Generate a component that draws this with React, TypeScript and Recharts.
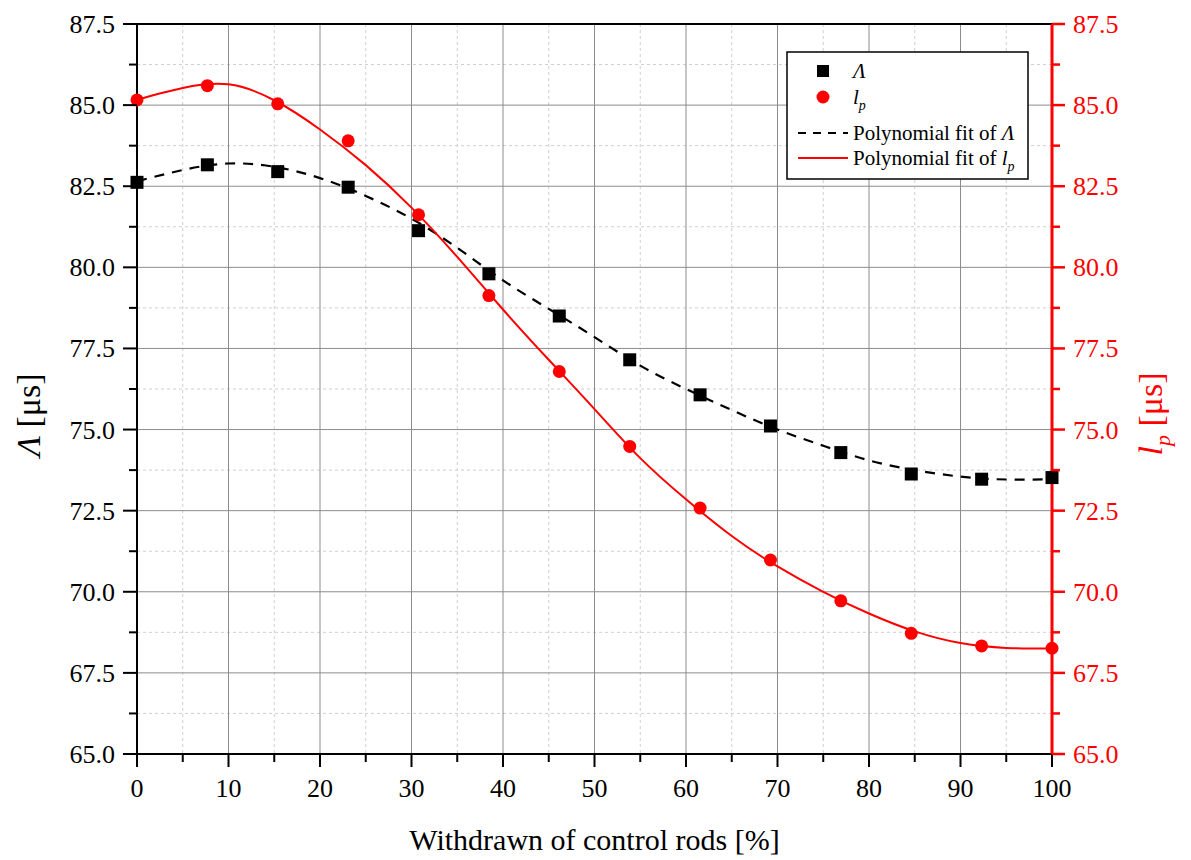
import {
  ComposedChart,
  Line,
  Scatter,
  XAxis,
  YAxis,
  CartesianGrid,
  ReferenceLine,
  Legend,
  Label,
} from "recharts";

// withdrawn fraction of control rods [%] for the measured points
const rodSteps = [0, 7.69, 15.38, 23.08, 30.77, 38.46, 46.15, 53.85, 61.54, 69.23, 76.92, 84.62, 92.31, 100];
// Λ [μs]
const lambdaValues = [82.62, 83.16, 82.95, 82.47, 81.13, 79.8, 78.5, 77.15, 76.07, 75.11, 74.29, 73.63, 73.47, 73.52];
// l_p [μs]
const lpValues = [85.16, 85.6, 85.04, 83.9, 81.62, 79.13, 76.79, 74.48, 72.58, 70.98, 69.72, 68.72, 68.33, 68.26];

// fit curves
const fitSteps = [0, 5, 10, 15, 20, 25, 30, 35, 40, 45, 50, 55, 60, 65, 70, 75, 80, 85, 90, 95, 100];
const lambdaFit = [82.65, 83.0, 83.2, 83.1, 82.75, 82.2, 81.5, 80.6, 79.6, 78.72, 77.85, 76.97, 76.25, 75.6, 75.0, 74.5, 74.05, 73.75, 73.55, 73.46, 73.47];
const lpFit = [85.17, 85.53, 85.64, 85.15, 84.25, 83.15, 81.84, 80.32, 78.7, 77.15, 75.63, 74.12, 72.85, 71.72, 70.78, 70.0, 69.33, 68.78, 68.42, 68.27, 68.25];

const xMajor = [0, 10, 20, 30, 40, 50, 60, 70, 80, 90, 100];
const xMinor = [5, 15, 25, 35, 45, 55, 65, 75, 85, 95];
const yMajor = [65, 67.5, 70, 72.5, 75, 77.5, 80, 82.5, 85, 87.5];
const yMinor = [66.25, 68.75, 71.25, 73.75, 76.25, 78.75, 81.25, 83.75, 86.25];

const lambdaPoints = rodSteps.map((x, i) => ({ x, lam: lambdaValues[i] }));
const lpPoints = rodSteps.map((x, i) => ({ x, lp: lpValues[i] }));
const lambdaFitData = fitSteps.map((x, i) => ({ x, lamFit: lambdaFit[i] }));
const lpFitData = fitSteps.map((x, i) => ({ x, lpFit: lpFit[i] }));

const FONT = "'Liberation Serif', 'Times New Roman', serif";
const RED = "#ff0000";
const serif = { fontFamily: FONT };

const isMajor = (v: number, list: number[]) => list.some((m) => Math.abs(m - v) < 1e-6);

function XTick(props: any) {
  const { x, y, payload } = props;
  const major = isMajor(payload.value, xMajor);
  return (
    <g>
      <line x1={x} y1={y} x2={x} y2={y + (major ? 13 : 8)} stroke="#000" strokeWidth={2} />
      {major && (
        <text x={x} y={y + 43} textAnchor="middle" style={serif} fontSize={26} fill="#000">
          {payload.value}
        </text>
      )}
    </g>
  );
}

function LeftTick(props: any) {
  const { x, y, payload } = props;
  const major = isMajor(payload.value, yMajor);
  return (
    <g>
      <line x1={x} y1={y} x2={x - (major ? 14 : 8)} y2={y} stroke="#000" strokeWidth={2} />
      {major && (
        <text x={x - 22} y={y + 9} textAnchor="end" style={serif} fontSize={26} fill="#000">
          {payload.value.toFixed(1)}
        </text>
      )}
    </g>
  );
}

function RightTick(props: any) {
  const { x, y, payload } = props;
  const major = isMajor(payload.value, yMajor);
  return (
    <g>
      <line x1={x} y1={y} x2={x + (major ? 13 : 8)} y2={y} stroke={RED} strokeWidth={2.5} />
      {major && (
        <text x={x + 21} y={y + 9} textAnchor="start" style={serif} fontSize={26} fill={RED}>
          {payload.value.toFixed(1)}
        </text>
      )}
    </g>
  );
}

function LegendBox() {
  return (
    <svg width={243} height={129} style={{ display: "block" }}>
      <rect x={1} y={1} width={241} height={127} fill="#fff" stroke="#000" strokeWidth={1.5} />
      <rect x={31} y={14} width={12} height={12} fill="#000" />
      <text x={67} y={27} style={serif} fontSize={21} fontStyle="italic">Λ</text>
      <circle cx={37} cy={46} r={6.5} fill={RED} />
      <text x={67} y={53} style={serif} fontSize={21}>
        <tspan fontStyle="italic">l</tspan>
        <tspan fontStyle="italic" fontSize={14} dy={6}>p</tspan>
      </text>
      <line x1={12} y1={82} x2={62} y2={82} stroke="#000" strokeWidth={2} strokeDasharray="8 7" />
      <text x={67} y={89} style={serif} fontSize={21}>
        Polynomial fit of <tspan fontStyle="italic">Λ</tspan>
      </text>
      <line x1={12} y1={107} x2={62} y2={107} stroke={RED} strokeWidth={2} />
      <text x={67} y={114} style={serif} fontSize={21}>
        Polynomial fit of <tspan fontStyle="italic">l</tspan>
        <tspan fontStyle="italic" fontSize={14} dy={6}>p</tspan>
      </text>
    </svg>
  );
}

const square = (p: any) => <rect x={p.cx - 6.5} y={p.cy - 6.5} width={13} height={13} fill="#000" />;
const dot = (p: any) => <circle cx={p.cx} cy={p.cy} r={6.5} fill={RED} />;

export default function App() {
  return (
    <div style={{ position: "absolute", left: 0, top: 0, background: "#fff" }}>
      <ComposedChart width={1191} height={860} margin={{ top: 24, right: 0, bottom: 0, left: 0 }}>
        <CartesianGrid
          yAxisId="left"
          horizontalValues={yMinor}
          verticalValues={xMinor}
          stroke="#cfcfcf"
          strokeDasharray="3 3"
        />
        <CartesianGrid yAxisId="left" horizontalValues={yMajor} verticalValues={xMajor} stroke="#8c8c8c" />

        <XAxis
          dataKey="x"
          type="number"
          domain={[0, 100]}
          ticks={[...xMajor, ...xMinor].sort((a, b) => a - b)}
          interval={0}
          height={106}
          tickSize={0}
          tickMargin={0}
          tickLine={false}
          tick={<XTick />}
          axisLine={{ stroke: "#000", strokeWidth: 2 }}
        >
          <Label
            content={(p: any) => (
              <text
                x={p.viewBox.x + p.viewBox.width / 2}
                y={p.viewBox.y + 96}
                textAnchor="middle"
                style={serif}
                fontSize={30}
                fill="#000"
              >
                Withdrawn of control rods [%]
              </text>
            )}
          />
        </XAxis>

        <YAxis
          yAxisId="left"
          orientation="left"
          type="number"
          domain={[65, 87.5]}
          ticks={[...yMajor, ...yMinor].sort((a, b) => a - b)}
          interval={0}
          width={137}
          tickSize={0}
          tickMargin={0}
          tickLine={false}
          tick={<LeftTick />}
          axisLine={{ stroke: "#000", strokeWidth: 2 }}
        >
          <Label
            content={() => (
              <text
                x={40}
                y={415}
                transform="rotate(-90 40 415)"
                textAnchor="middle"
                style={serif}
                fontSize={34}
                fill="#000"
              >
                <tspan fontStyle="italic">Λ</tspan> [μs]
              </text>
            )}
          />
        </YAxis>

        <YAxis
          yAxisId="right"
          orientation="right"
          type="number"
          domain={[65, 87.5]}
          ticks={[...yMajor, ...yMinor].sort((a, b) => a - b)}
          interval={0}
          width={139}
          tickSize={0}
          tickMargin={0}
          tickLine={false}
          tick={<RightTick />}
          axisLine={{ stroke: RED, strokeWidth: 3 }}
        >
          <Label
            content={() => (
              <text
                x={1162}
                y={414}
                transform="rotate(-90 1162 414)"
                textAnchor="middle"
                style={serif}
                fontSize={34}
                fill={RED}
              >
                <tspan fontStyle="italic">l</tspan>
                <tspan fontStyle="italic" fontSize={22} dy={8}>p</tspan>
                <tspan dy={-8}> [μs]</tspan>
              </text>
            )}
          />
        </YAxis>

        <ReferenceLine yAxisId="left" y={87.5} stroke="#000" strokeWidth={2} />

        <Line
          yAxisId="left"
          data={lambdaFitData}
          dataKey="lamFit"
          type="natural"
          stroke="#000"
          strokeWidth={2.2}
          strokeDasharray="10 8"
          dot={false}
          isAnimationActive={false}
        />
        <Line
          yAxisId="right"
          data={lpFitData}
          dataKey="lpFit"
          type="natural"
          stroke={RED}
          strokeWidth={2}
          dot={false}
          isAnimationActive={false}
        />
        <Scatter yAxisId="left" data={lambdaPoints} dataKey="lam" shape={square} isAnimationActive={false} />
        <Scatter yAxisId="right" data={lpPoints} dataKey="lp" shape={dot} isAnimationActive={false} />

        <Legend
          layout="horizontal"
          verticalAlign="middle"
          align="center"
          wrapperStyle={{ left: 786, top: 51, width: 243, height: 129 }}
          content={() => <LegendBox />}
        />
      </ComposedChart>
    </div>
  );
}
